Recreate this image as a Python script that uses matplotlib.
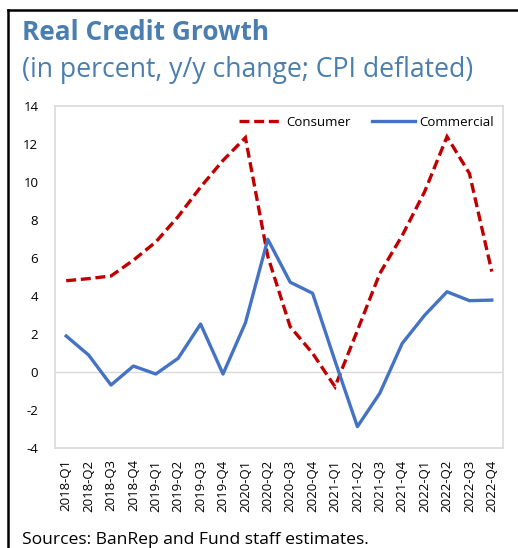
import matplotlib
matplotlib.use("Agg")
import matplotlib.pyplot as plt
from matplotlib.lines import Line2D

plt.rcParams['font.family'] = ['Open Sans', 'DejaVu Sans']

quarters = ["2018-Q1", "2018-Q2", "2018-Q3", "2018-Q4",
            "2019-Q1", "2019-Q2", "2019-Q3", "2019-Q4",
            "2020-Q1", "2020-Q2", "2020-Q3", "2020-Q4",
            "2021-Q1", "2021-Q2", "2021-Q3", "2021-Q4",
            "2022-Q1", "2022-Q2", "2022-Q3", "2022-Q4"]
consumer = [4.82, 4.93, 5.07, 5.9, 6.86, 8.2, 9.75, 11.15, 12.35, 6.1,
            2.4, 1.0, -0.76, 2.2, 5.2, 7.2, 9.5, 12.4, 10.47, 5.3]
commercial = [1.91, 0.91, -0.67, 0.33, -0.09, 0.74, 2.54, -0.09, 2.6, 7.0,
              4.74, 4.16, 0.6, -2.86, -1.1, 1.52, 3.0, 4.24, 3.77, 3.8]
yticks = [-4, -2, 0, 2, 4, 6, 8, 10, 12, 14]

W, H = 518, 548
fig = plt.figure(figsize=(W / 100, H / 100), dpi=100)
ax = fig.add_axes([55 / W, (H - 448.3) / H, 448 / W, 342 / H])

x = list(range(len(quarters)))
ax.plot(x, consumer, color="#C00000", lw=2.4, linestyle=(0, (3, 1.4)),
        label="Consumer", solid_joinstyle="miter", dash_joinstyle="miter")
ax.plot(x, commercial, color="#4472C4", lw=2.4, label="Commercial")
ax.axhline(0, color="#D9D9D9", lw=1, zorder=0)

ax.set_xlim(-0.5, len(quarters) - 0.5)
ax.set_ylim(-4, 14)
ax.set_yticks(yticks)
ax.set_yticklabels([str(v) for v in yticks], fontsize=9.5)
ax.set_xticks(x)
ax.set_xticklabels(quarters, rotation=90, fontsize=9.5)
ax.tick_params(length=0)
ax.tick_params(axis='y', pad=12)
ax.tick_params(axis='x', pad=8)
for s in ax.spines.values():
    s.set_color("#D9D9D9")
    s.set_linewidth(1.2)

leg = ax.legend(ncol=2, loc="upper right", bbox_to_anchor=(1.0, 1.0),
                frameon=False, fontsize=9.5, handlelength=3.3,
                columnspacing=1.6, handletextpad=0.3, borderaxespad=0.3)

fig.text(22 / W, 1 - 32 / H, "Real Credit Growth", fontsize=18.9, fontweight="bold",
         color="#4A7EAE", va="center", ha="left")
fig.text(22 / W, 1 - 70 / H, "(in percent, y/y change; CPI deflated)", fontsize=19.2,
         color="#4A7EAE", va="center", ha="left")
fig.text(22 / W, 1 - 540 / H, "Sources: BanRep and Fund staff estimates.", fontsize=12.6,
         color="black", va="center", ha="left")

fig.add_artist(Line2D([8 / W, 8 / W], [0, 1 - 10 / H], transform=fig.transFigure,
                      color="black", lw=1.8))
fig.add_artist(Line2D([8 / W, 1], [1 - 10 / H, 1 - 10 / H], transform=fig.transFigure,
                      color="black", lw=1.8))

fig.savefig("out.png", dpi=100)
